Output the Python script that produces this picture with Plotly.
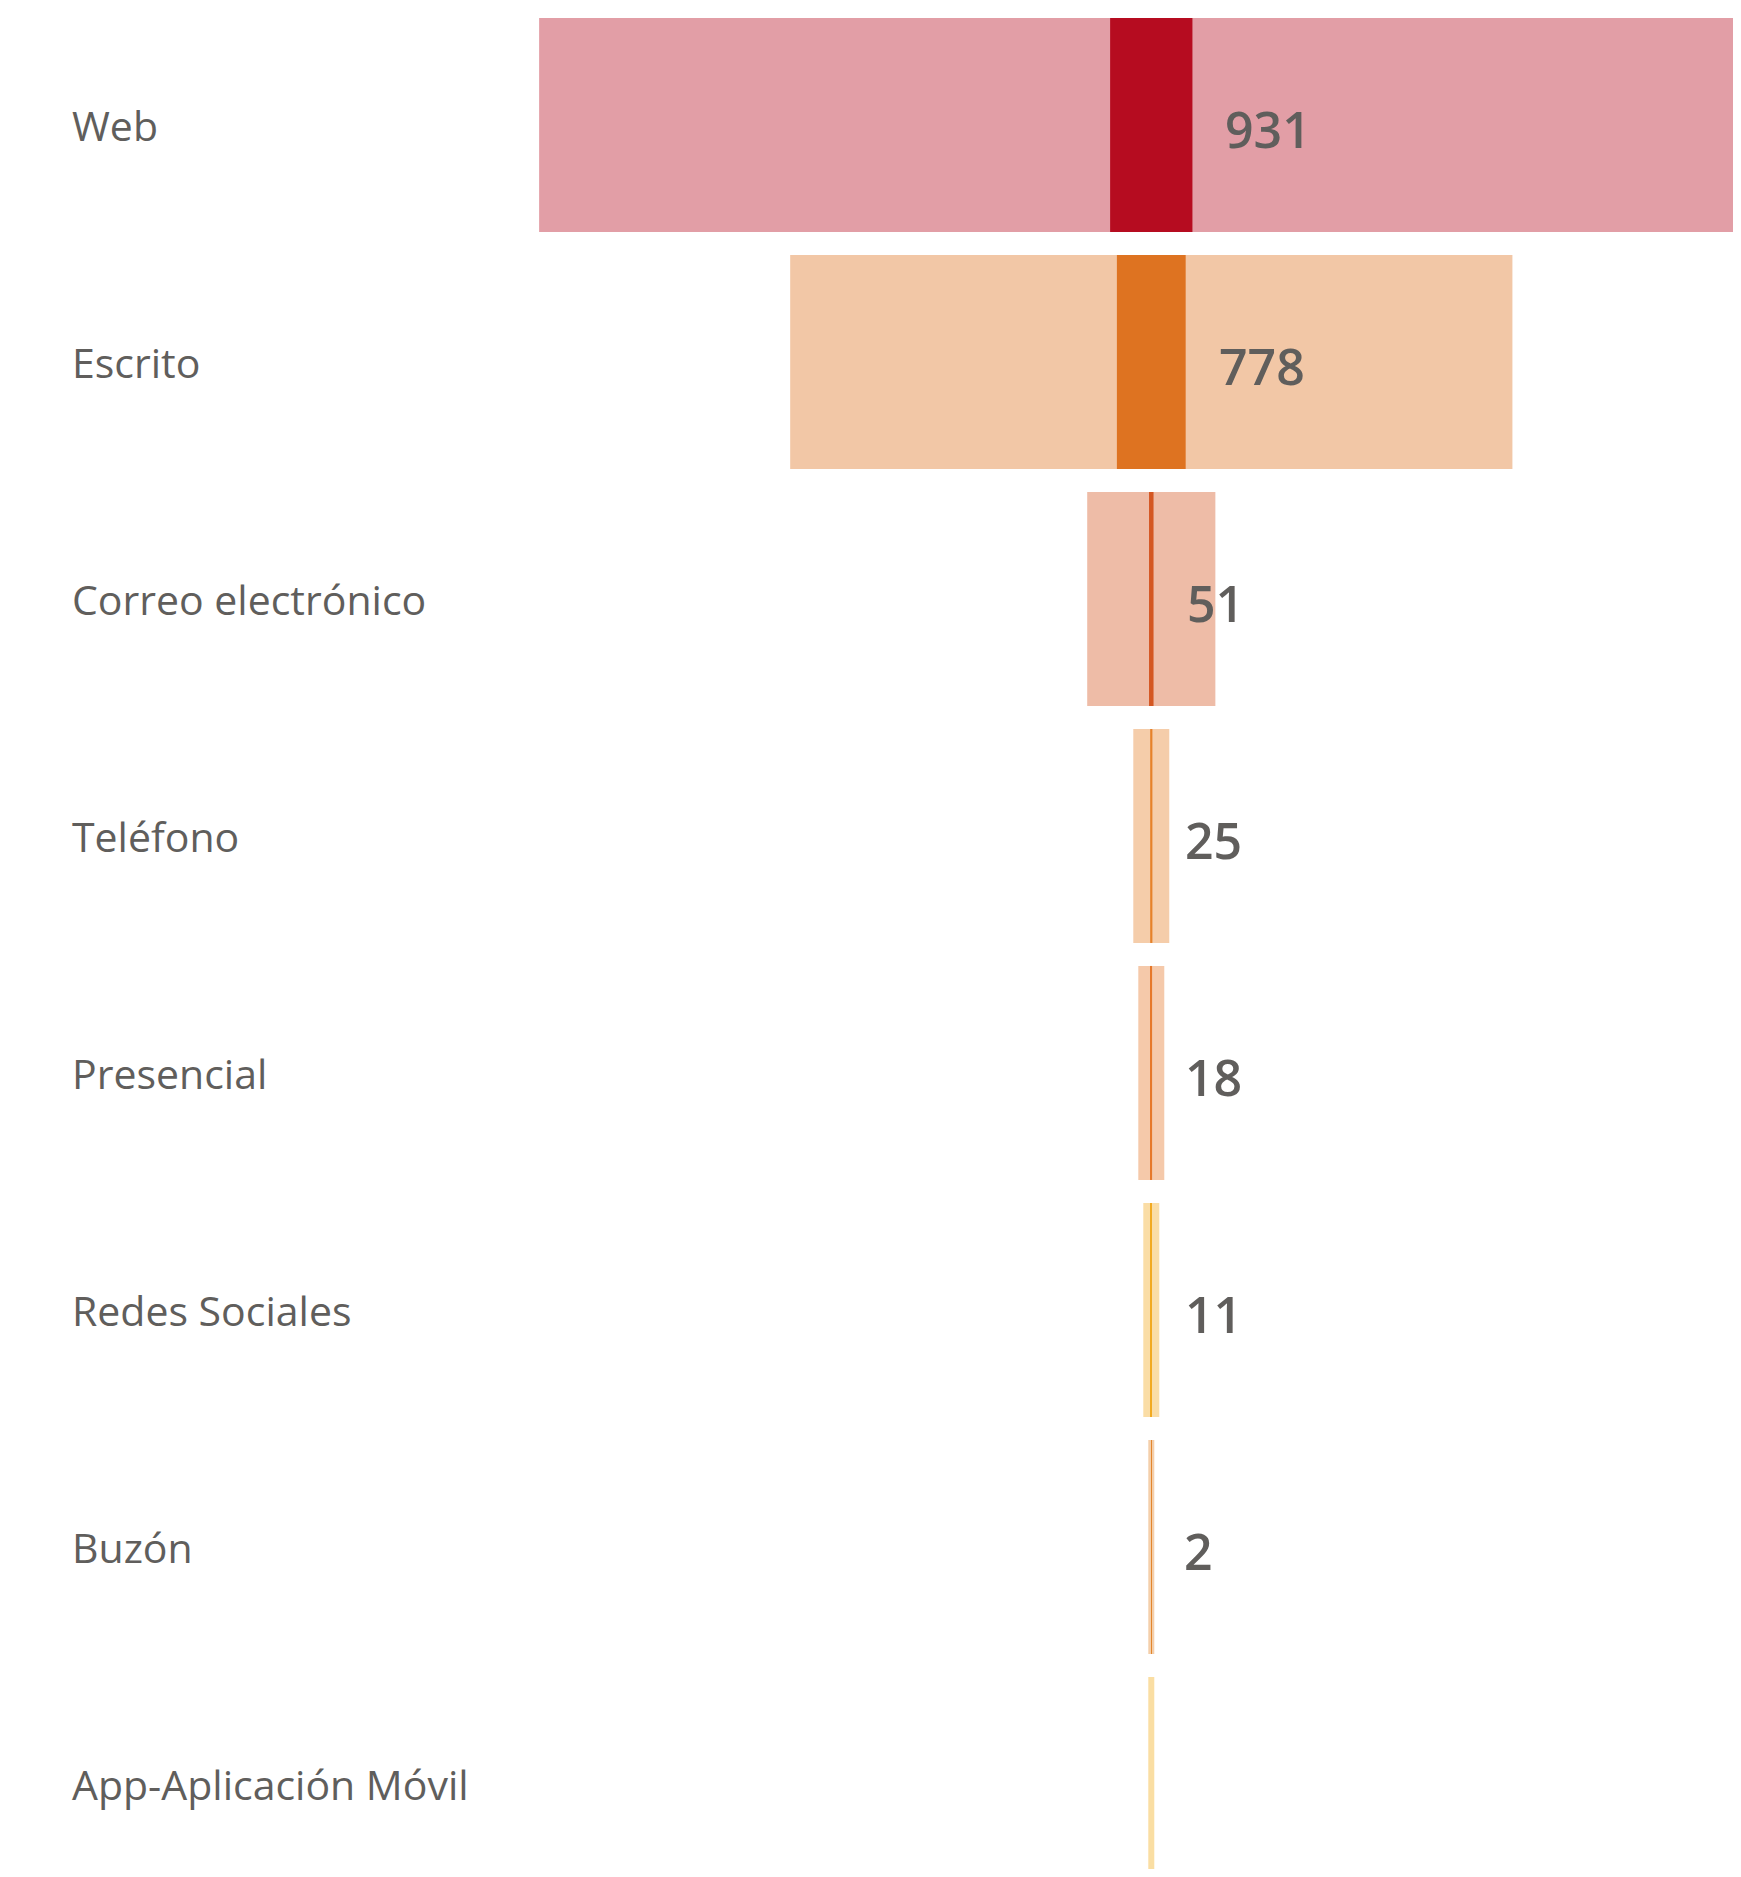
import plotly.graph_objects as go

categories = ["Web", "Escrito", "Correo electrónico", "Teléfono", "Presencial",
              "Redes Sociales", "Buzón", "App-Aplicación Móvil"]
values = [931, 778, 51, 25, 18, 11, 2, 0]
totals = [13850, 8170, 1450, 407, 294, 181, 68, 68]
value_labels = ["931", "778", "51", "25", "18", "11", "2", ""]
dark_colors = ["#B60C20", "#DE7321", "#D45722", "#E6822A", "#E6782A",
               "#F2AA20", "#E3862C", "#F2AC18"]


def rgba(hex_color, a):
    h = hex_color.lstrip("#")
    r, g, b = int(h[0:2], 16), int(h[2:4], 16), int(h[4:6], 16)
    return f"rgba({r},{g},{b},{a})"


light_colors = [rgba(c, 0.4) for c in dark_colors]

W, H = 1733, 1861

fig = go.Figure()
fig.add_trace(go.Bar(
    y=categories, x=totals, base=[-t / 2 for t in totals], orientation="h",
    marker=dict(color=light_colors, line=dict(width=0)), width=0.903,
    hoverinfo="skip", showlegend=False,
))
fig.add_trace(go.Bar(
    y=categories, x=values, base=[-v / 2 for v in values], orientation="h",
    marker=dict(color=dark_colors, line=dict(width=0)), width=0.903,
    hoverinfo="skip", showlegend=False,
))

annotations = []
for cat in categories:
    annotations.append(dict(
        xref="paper", yref="y", x=62 / W, y=cat, text=cat, showarrow=False,
        xanchor="left", yanchor="middle",
        font=dict(family="Open Sans", size=41, color="#605E5C"),
    ))
for cat, v, lab in zip(categories, values, value_labels):
    if lab:
        annotations.append(dict(
            xref="x", yref="y", x=v / 2, y=cat, text=lab, showarrow=False,
            xanchor="left", yanchor="middle", xshift=31, yshift=-4,
            font=dict(family="Open Sans", size=50, color="#605E5C", weight=600),
        ))

fig.update_layout(
    width=W, height=H,
    margin=dict(l=0, r=0, t=0, b=0),
    paper_bgcolor="white", plot_bgcolor="white",
    barmode="overlay",
    xaxis=dict(visible=False, range=[-12933, 6671], fixedrange=True),
    yaxis=dict(visible=False, range=[7.359, -0.4937], fixedrange=True,
               categoryorder="array", categoryarray=categories),
    annotations=annotations,
)

fig.write_html("out.html")
